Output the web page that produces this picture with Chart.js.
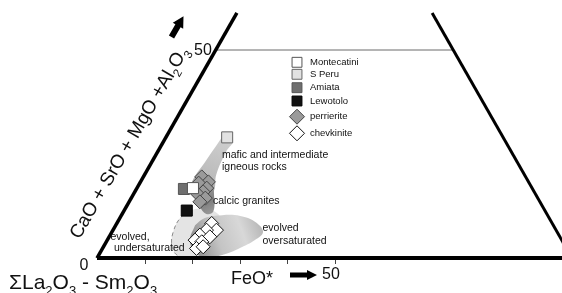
<!DOCTYPE html>
<html><head><meta charset="utf-8">
<script src="https://cdn.jsdelivr.net/npm/chart.js@4.4.1/dist/chart.umd.min.js"></script>
<style>html,body{margin:0;padding:0;background:#fff;overflow:hidden}</style>
</head><body>
<canvas id="c" width="562" height="293" style="display:block"></canvas>
<script>
// Ternary values: [FeO*, CaO+SrO+MgO+Al2O3] in %, remainder = ΣLa2O3-Sm2O3
const montecatini = [[11.8, 16.8]];
const sPeru = [[12.9, 29.0]];
const amiata = [[10.0, 16.6]];
const lewotolo = [[13.2, 11.4]];
const perrierite = [[12.3,19.5],[14.3,18.3],[12.4,18.0],[14.7,16.8],[14.4,15.9],[13.2,15.6],[15.6,14.4],[14.9,13.5]];
const chevkinite = [[20.0,8.3],[21.8,6.7],[19.7,6.7],[18.9,5.5],[21.2,5.1],[18.5,4.3],[20.1,3.9],[19.8,2.3],[21.0,2.7]];

// Field outlines (ternary [FeO*, CaO+...])
const fieldMafic = [[11.8,29.1],[12.9,29.8],[14.6,28.1],[14.4,25.5],[15.1,20.0],[16.5,16.4],[16.4,13.9],[14.3,13.9],[11.7,15.9],[10.8,18.8],[11.2,23.1]];
const fieldCalcic = [[14.2,17.6],[15.3,17.8],[17.2,14.9],[18.9,11.1],[17.7,10.6],[15.6,12.3],[14.5,15.1]];
const fieldUnder = [[15.7,12.0],[19.3,11.1],[22.0,8.7],[23.9,3.1],[23.1,0.5],[19.5,0.2],[16.5,0.7],[14.2,3.1],[12.9,6.3],[12.7,9.6],[13.9,11.3]];
const fieldUnderDash = [[13.9,11.3],[12.7,9.6],[12.9,6.3],[14.2,3.1],[16.5,0.7],[19.5,0.2]];
const fieldOver = [[16.7,7.9],[17.9,9.6],[21.2,10.3],[25.1,10.1],[28.9,8.7],[31.8,6.3],[31.1,4.3],[28.9,2.4],[26.0,0.7],[22.6,0.2],[19.9,1.4],[17.4,4.3]];

// Frame
const edgeLeft = [[0,0],[0,58.9]];
const edgeBottom = [[0,0],[100,0]];
const edgeRight = [[100,0],[41.1,58.9]];
const line50 = [[0,50],[50,50]];
const bottomTicks = [10,20,30,40,50];

const T = p => ({x: p[0] + p[1]/2, y: p[1]});
const pts = arr => arr.map(T);
const closed = arr => pts(arr.concat([arr[0]]));
const FONT = '"Liberation Sans", Arial, sans-serif';

function grad(chart, x0, y0, x1, y1, stops) {
  const g = chart.ctx.createLinearGradient(x0, y0, x1, y1);
  stops.forEach(s => g.addColorStop(s[0], s[1]));
  return g;
}

function region(label, data, bg, order, extra) {
  return Object.assign({type:'line', label, data: closed(data), backgroundColor: bg, borderWidth: 0,
    borderColor: 'rgba(0,0,0,0)', pointRadius: 0, fill: 'shape', tension: 0.4, order}, extra || {});
}
function edge(data, w, color, order) {
  return {type:'line', data: pts(data), borderColor: color, borderWidth: w, pointRadius: 0, fill: false, tension: 0, order, borderCapStyle:'butt'};
}
function marks(label, data, style, radius, fillC, lineC, order) {
  return {type:'scatter', label, data: pts(data), pointStyle: style, pointRadius: radius, pointHoverRadius: radius,
    backgroundColor: fillC, borderColor: lineC, pointBorderWidth: 1, borderWidth: 1, order};
}

const seriesDefs = [
  marks('Montecatini', montecatini, 'rect', 7.8, '#ffffff', '#555555', 1),
  marks('S Peru', sPeru, 'rect', 7.8, '#e2e2e2', '#666666', 2),
  marks('Amiata', amiata, 'rect', 7.8, '#6f6f6f', '#555555', 3),
  marks('Lewotolo', lewotolo, 'rect', 7.8, '#111111', '#000000', 2),
  marks('perrierite', perrierite, 'rectRot', 7, '#9a9a9a', '#444444', 4),
  marks('chevkinite', chevkinite, 'rectRot', 7, '#ffffff', '#111111', 4)
];

const datasets = [
  ...seriesDefs,
  edge(edgeLeft, 3.5, '#000', 5),
  edge(edgeBottom, 4, '#000', 5),
  edge(edgeRight, 3, '#000', 5),
  edge(line50, 1, '#6a6a6a', 5),
  {type:'line', data: pts(fieldUnderDash), borderColor:'#8a8a8a', borderWidth:1, borderDash:[4,3], pointRadius:0, fill:false, tension:0.4, order:6},
  region('calcic', fieldCalcic, ctx => { const c = ctx.chart; if (!c.chartArea) return '#8c8c8c';
      return grad(c, 200, 185, 213, 214, [[0,'#9a9a9a'],[0.6,'#808080'],[1,'#9c9c9c']]); }, 7),
  region('mafic', fieldMafic, ctx => { const c = ctx.chart; if (!c.chartArea) return '#c4c4c4';
      return grad(c, 228, 135, 205, 200, [[0,'#d0d0d0'],[0.6,'#bdbdbd'],[1,'#a8a8a8']]); }, 8),
  region('over', fieldOver, ctx => { const c = ctx.chart; if (!c.chartArea) return '#c8c8c8';
      return grad(c, 195, 250, 263, 225, [[0,'#8c8c8c'],[0.35,'#c4c4c4'],[0.7,'#d8d8d8'],[1,'#b4b4b4']]); }, 9),
  region('under', fieldUnder, '#e4e4e4', 10)
];

function richWidth(ctx, parts, size) {
  let w = 0;
  parts.forEach(p => { ctx.font = (p[1] ? size*0.62 : size) + 'px ' + FONT; w += ctx.measureText(p[0]).width; });
  return w;
}
function drawRich(ctx, parts, x, y, size) {
  let cx = x;
  ctx.textBaseline = 'alphabetic';
  ctx.textAlign = 'left';
  parts.forEach(p => {
    ctx.font = (p[1] ? size*0.62 : size) + 'px ' + FONT;
    ctx.fillText(p[0], cx, y + (p[1] ? size*0.28 : 0));
    cx += ctx.measureText(p[0]).width;
  });
}

const overlay = {
  id: 'overlay',
  afterDraw(chart) {
    const ctx = chart.ctx;
    const xs = chart.scales.x, ys = chart.scales.y;
    const px = p => { const q = T(p); return [xs.getPixelForValue(q.x), ys.getPixelForValue(q.y)]; };
    ctx.save();
    // bottom ticks
    ctx.strokeStyle = '#444'; ctx.lineWidth = 1;
    bottomTicks.forEach(v => { const [x, y] = px([v, 0]); ctx.beginPath(); ctx.moveTo(Math.round(x)+0.5, y+2); ctx.lineTo(Math.round(x)+0.5, y+6); ctx.stroke(); });
    ctx.fillStyle = '#111';
    // field labels
    ctx.font = '10.5px ' + FONT; ctx.textAlign = 'left'; ctx.textBaseline = 'middle';
    [['mafic and intermediate',222,155],['igneous rocks',222,167],['calcic granites',213,201.5],
     ['evolved',262.5,228],['oversaturated',262.5,241],['evolved,',110.5,237],['undersaturated',114,248.5]]
      .forEach(t => ctx.fillText(t[0], t[1], t[2]));
    // legend
    const lx = 297, ly = [62.3, 74.3, 87.7, 101, 116.7, 133.3];
    seriesDefs.forEach((d, i) => {
      const st = {pointStyle: d.pointStyle, radius: d.pointStyle === 'rect' ? 7 : 7.5, rotation: 0, borderWidth: 1};
      ctx.fillStyle = d.backgroundColor; ctx.strokeStyle = d.borderColor; ctx.lineWidth = 1;
      Chart.helpers.drawPoint(ctx, st, lx, ly[i]);
      ctx.fillStyle = '#111'; ctx.font = '9.5px ' + FONT; ctx.textAlign = 'left'; ctx.textBaseline = 'middle';
      ctx.fillText(d.label, 310, ly[i]);
    });
    // axis numbers
    ctx.fillStyle = '#111';
    ctx.font = '16px ' + FONT; ctx.textAlign = 'center'; ctx.textBaseline = 'middle';
    ctx.fillText('50', 203, 51);
    ctx.fillText('0', 84, 266);
    ctx.fillText('50', 331, 275);
    ctx.font = '18px ' + FONT; ctx.textAlign = 'left';
    ctx.fillText('FeO*', 231, 279);
    // bottom-left title
    drawRich(ctx, [['\u03A3La',0],['2',1],['O',0],['3',1],[' - Sm',0],['2',1],['O',0],['3',1]], 9, 289, 21);
    // rotated title
    const parts = [['CaO + SrO + MgO +Al',0],['2',1],['O',0],['3',1]];
    ctx.save();
    ctx.translate(128, 142); ctx.rotate(-60 * Math.PI / 180);
    const w = richWidth(ctx, parts, 19);
    drawRich(ctx, parts, -w/2, 7, 19);
    ctx.restore();
    // arrows
    function arrow(x0, y0, ang, len, shaft, head, headLen) {
      ctx.save(); ctx.translate(x0, y0); ctx.rotate(ang); ctx.fillStyle = '#000';
      ctx.beginPath();
      ctx.moveTo(0, -shaft/2); ctx.lineTo(len-headLen, -shaft/2); ctx.lineTo(len-headLen, -head/2);
      ctx.lineTo(len, 0); ctx.lineTo(len-headLen, head/2); ctx.lineTo(len-headLen, shaft/2); ctx.lineTo(0, shaft/2);
      ctx.closePath(); ctx.fill(); ctx.restore();
    }
    arrow(290, 275, 0, 27, 5, 10, 10);
    arrow(171.5, 37, -60 * Math.PI / 180, 24, 6, 12, 11);
    ctx.restore();
  }
};

new Chart(document.getElementById('c'), {
  data: {datasets},
  options: {
    responsive: false, animation: false, devicePixelRatio: 1,
    layout: {padding: 0, autoPadding: false},
    plugins: {legend: {display: false}, tooltip: {enabled: false}},
    scales: {
      x: {type: 'linear', display: false, min: -20.42, max: 97.89},
      y: {type: 'linear', display: false, min: -8.41, max: 62.02}
    }
  },
  plugins: [overlay]
});
</script>
</body></html>
